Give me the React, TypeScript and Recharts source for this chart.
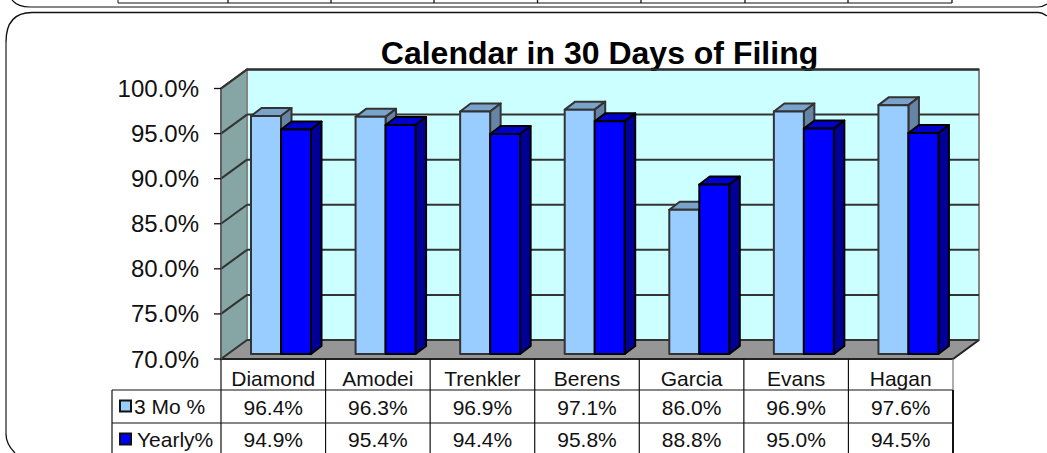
import React from 'react'
import { BarChart, Bar, XAxis, YAxis, CartesianGrid, usePlotArea } from 'recharts'

const categories = ['Diamond', 'Amodei', 'Trenkler', 'Berens', 'Garcia', 'Evans', 'Hagan']
const threeMonth = [96.4, 96.3, 96.9, 97.1, 86.0, 96.9, 97.6]
const yearly = [94.9, 95.4, 94.4, 95.8, 88.8, 95.0, 94.5]
const yTicks = [70, 75, 80, 85, 90, 95, 100]

const data = categories.map((name, i) => ({ name, threeMonth: threeMonth[i], yearly: yearly[i] }))

const FONT = '"Liberation Sans", Arial, sans-serif'
// depth of the fake 3D box
const DEPTH_X = 26
const DEPTH_Y = 19
// bars stand part way into the box
const BAR_DX = 8
const BAR_DY = -5
const BAR_DEPTH_X = 10.5
const BAR_DEPTH_Y = 8

const pct = (v: number) => v.toFixed(1) + '%'

function Bar3D(props: any) {
  const { x, y, width, height, fill, topFill, sideFill, edgeColor } = props
  const l = x + BAR_DX
  const t = y + BAR_DY
  const r = l + width
  const b = t + height
  const edge = { stroke: edgeColor, strokeWidth: 2, strokeLinejoin: 'round' as const }
  return (
    <g>
      <polygon points={`${l},${t} ${l + BAR_DEPTH_X},${t - BAR_DEPTH_Y} ${r + BAR_DEPTH_X},${t - BAR_DEPTH_Y} ${r},${t}`} fill={topFill} {...edge} />
      <polygon points={`${r},${t} ${r + BAR_DEPTH_X},${t - BAR_DEPTH_Y} ${r + BAR_DEPTH_X},${b - BAR_DEPTH_Y} ${r},${b}`} fill={sideFill} {...edge} />
      <rect x={l} y={t} width={width} height={height} fill={fill} {...edge} />
    </g>
  )
}

// outlines of the slide panels around the chart, the upper one is cut by the crop
function Panels() {
  const cols = [228, 331, 434, 537.5, 641, 745, 848, 952]
  return (
    <g fill="none" stroke="#111">
      <path d="M12 0 Q18 7 30 7 L1038 7 Q1042 7 1047 4" strokeWidth={1.2} />
      <path d="M1047 16 Q1042 12.5 1038 12.5 L32 12.5 Q6 12.5 6 42 L6 434 Q6 444 15 453" strokeWidth={1.3} />
      <path d="M6 42 L6 434" stroke="#777" strokeWidth={2} />
      <path d="M118 0 L118 3 L952 3" strokeWidth={1} />
      {cols.map(c => <path key={c} d={`M${c} 0 L${c} 3`} strokeWidth={1.3} />)}
    </g>
  )
}

function Walls() {
  const p = usePlotArea()
  if (!p) return null
  const { x, y, width, height } = p
  const bottom = y + height
  const backL = x + DEPTH_X
  const backR = x + width + DEPTH_X
  return (
    <g>
      <rect x={backL} y={y - DEPTH_Y} width={width} height={height} fill="#CCFFFF" stroke="#858585" strokeWidth={2} />
      <polygon points={`${x},${y} ${backL},${y - DEPTH_Y} ${backL},${bottom - DEPTH_Y} ${x},${bottom}`} fill="#86A6A6" stroke="#858585" strokeWidth={2} />
      <path d={`M${x} ${y} L${backL} ${y - DEPTH_Y} L${backR} ${y - DEPTH_Y}`} fill="none" stroke="#444" strokeWidth={2} />
    </g>
  )
}

function Floor() {
  const p = usePlotArea()
  if (!p) return null
  const { x, y, width, height } = p
  const bottom = y + height
  const right = x + width
  return (
    <g>
      <polygon points={`${x},${bottom} ${x + DEPTH_X},${bottom - DEPTH_Y} ${right + DEPTH_X},${bottom - DEPTH_Y} ${right},${bottom}`} fill="#969696" />
      <path d={`M${x} ${bottom} L${right} ${bottom} L${right + DEPTH_X} ${bottom - DEPTH_Y}`} fill="none" stroke="#222" strokeWidth={2} />
    </g>
  )
}

function GridLine(props: any) {
  const { x1, x2, y1, y2 } = props
  return (
    <g stroke="#333" strokeWidth={2}>
      <line x1={x1 + DEPTH_X} x2={x2 + DEPTH_X} y1={y1 - DEPTH_Y} y2={y2 - DEPTH_Y} />
      <line x1={x1} x2={x1 + DEPTH_X} y1={y1} y2={y1 - DEPTH_Y} />
    </g>
  )
}

// the data table Excel hangs under the category axis
function DataTable() {
  const p = usePlotArea()
  if (!p) return null
  const { x, y, width, height } = p
  const top = y + height
  const step = width / categories.length
  const row1 = top + 31
  const row2 = top + 64
  const tableLeft = x - 109
  const right = x + width
  const text = { fontFamily: FONT, fontSize: 21, fill: '#111', textAnchor: 'middle' as const }
  const rows = [
    { values: threeMonth, base: row1 + 25 },
    { values: yearly, base: row2 + 24 },
  ]
  return (
    <g>
      <g stroke="#111" strokeWidth={1.2}>
        {categories.map((c, i) => (
          <line key={c} x1={x + i * step} x2={x + i * step} y1={top} y2={453} />
        ))}
        <line x1={tableLeft} x2={right} y1={row1} y2={row1} />
        <line x1={tableLeft} x2={right} y1={row2} y2={row2} />
        <line x1={tableLeft} x2={tableLeft} y1={row1} y2={453} />
      </g>
      <line x1={right} x2={right} y1={top} y2={row1} stroke="#777" strokeWidth={1.2} />
      <line x1={right} x2={right} y1={row1} y2={453} stroke="#111" strokeWidth={2} />
      {rows.map(r =>
        r.values.map((v, i) => (
          <text key={i} x={x + (i + 0.5) * step} y={r.base} {...text}>{pct(v)}</text>
        ))
      )}
      <rect x={tableLeft + 8} y={row1 + 10.5} width={11} height={11} fill="#99CCFF" stroke="#111" strokeWidth={2} />
      <text x={tableLeft + 22} y={row1 + 24} fontFamily={FONT} fontSize={21} fill="#111">3 Mo %</text>
      <rect x={tableLeft + 8} y={row2 + 10.5} width={11} height={11} fill="#0000FF" stroke="#111" strokeWidth={2} />
      <text x={tableLeft + 25} y={row2 + 24} fontFamily={FONT} fontSize={21} fill="#111">Yearly%</text>
    </g>
  )
}

export default function App() {
  return (
    <div style={{ position: 'absolute', left: 0, top: 0, width: 1047, height: 453, overflow: 'hidden', background: '#fff' }}>
      <BarChart
        width={1047}
        height={453}
        data={data}
        barSize={30}
        barGap={0}
        margin={{ top: 88.5, right: 94, bottom: 34, left: 100 }}
      >
        <Panels />
        <Walls />
        <CartesianGrid vertical={false} horizontal={GridLine as any} zIndex={1} />
        <Floor />
        <text x={599.5} y={64} textAnchor="middle" fontFamily={FONT} fontSize={32} fontWeight="bold" fill="#000">
          Calendar in 30 Days of Filing
        </text>
        <DataTable />
        <XAxis
          dataKey="name"
          height={60}
          interval={0}
          tickLine={false}
          axisLine={false}
          tickMargin={6}
          tick={{ fontFamily: FONT, fontSize: 21, fill: '#111' }}
        />
        <YAxis
          width={121}
          domain={[70, 100]}
          ticks={yTicks}
          tickFormatter={pct}
          tickSize={7}
          tickMargin={15}
          allowDataOverflow
          tick={{ fontFamily: FONT, fontSize: 24, fill: '#111' }}
          axisLine={{ stroke: '#555', strokeWidth: 1.5 }}
          tickLine={{ stroke: '#111', strokeWidth: 1.3 }}
        />
        <Bar
          dataKey="threeMonth"
          name="3 Mo %"
          isAnimationActive={false}
          fill="#99CCFF"
          shape={(b: any) => <Bar3D {...b} fill="#99CCFF" topFill="#7AA3CC" sideFill="#6685A6" edgeColor="#333" />}
        />
        <Bar
          dataKey="yearly"
          name="Yearly%"
          isAnimationActive={false}
          fill="#0000FF"
          shape={(b: any) => <Bar3D {...b} fill="#0000FF" topFill="#0000CC" sideFill="#000099" edgeColor="#000" />}
        />
      </BarChart>
    </div>
  )
}
